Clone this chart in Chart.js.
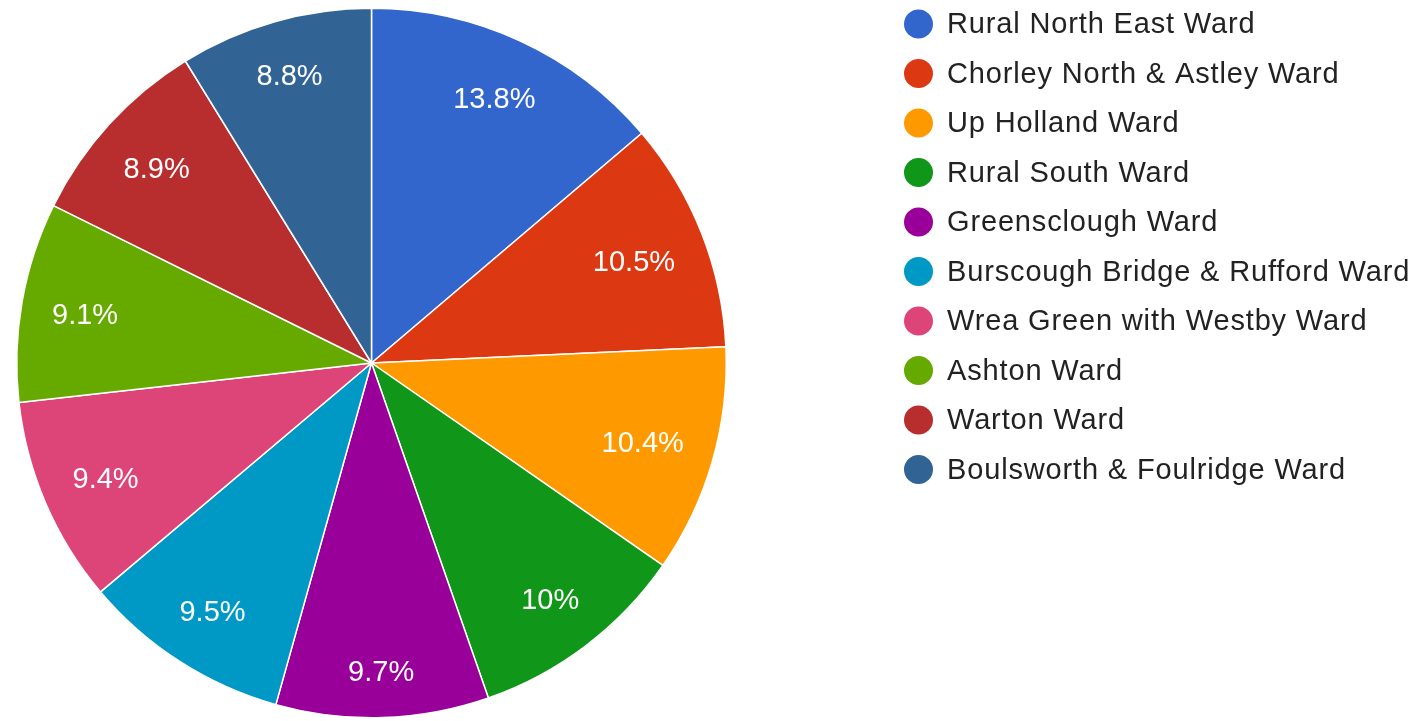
<!DOCTYPE html>
<html>
<head>
<meta charset="utf-8">
<script src="https://cdn.jsdelivr.net/npm/chart.js@4.4.0/dist/chart.umd.min.js"></script>
<style>
  html, body { margin: 0; padding: 0; background: #fff; }
  #wrap { width: 1419px; height: 721px; }
</style>
</head>
<body>
<div id="wrap"><canvas id="pieChart" width="1419" height="721"></canvas></div>
<script>
const wards = [
    'Rural North East Ward',
    'Chorley North & Astley Ward',
    'Up Holland Ward',
    'Rural South Ward',
    'Greensclough Ward',
    'Burscough Bridge & Rufford Ward',
    'Wrea Green with Westby Ward',
    'Ashton Ward',
    'Warton Ward',
    'Boulsworth & Foulridge Ward'
];
const shares = [13.8, 10.5, 10.4, 10, 9.7, 9.5, 9.4, 9.1, 8.9, 8.8];
const sliceColors = ['#3366cc', '#dc3912', '#ff9900', '#109618', '#990099',
                     '#0099c6', '#dd4477', '#66aa00', '#b82e2e', '#316395'];

const FONT = 'Arial, "Liberation Sans", sans-serif';

// percentage text inside each slice, pushed out as far as the box fits
const sliceLabels = {
    id: 'sliceLabels',
    afterDatasetsDraw(chart) {
        const ctx = chart.ctx;
        const meta = chart.getDatasetMeta(0);
        ctx.save();
        ctx.font = '29px ' + FONT;
        ctx.fillStyle = '#ffffff';
        ctx.textAlign = 'center';
        ctx.textBaseline = 'middle';
        meta.data.forEach((arc, i) => {
            const p = arc.getProps(['x', 'y', 'startAngle', 'endAngle', 'outerRadius'], true);
            const mid = (p.startAngle + p.endAngle) / 2;
            const ux = Math.cos(mid), uy = Math.sin(mid);
            const text = shares[i] + '%';
            const hw = ctx.measureText(text).width / 2;
            const hh = 16.5;
            const D = p.outerRadius * 0.92;
            const b = Math.abs(ux) * hw + Math.abs(uy) * hh;
            const c = hw * hw + hh * hh - D * D;
            const t = -b + Math.sqrt(b * b - c);
            ctx.fillText(text, p.x + ux * t, p.y + uy * t + 3);
        });
        ctx.restore();
    }
};

// legend to the right, drawn from the same labels and colours
const sideLegend = {
    id: 'sideLegend',
    afterDraw(chart) {
        const ctx = chart.ctx;
        const labels = chart.data.labels;
        const colors = chart.data.datasets[0].backgroundColor;
        ctx.save();
        ctx.font = '29px ' + FONT;
        if ('letterSpacing' in ctx) ctx.letterSpacing = '0.85px';
        ctx.textBaseline = 'middle';
        ctx.textAlign = 'left';
        labels.forEach((label, i) => {
            const y = 24 + i * 49.5;
            ctx.fillStyle = colors[i];
            ctx.beginPath();
            ctx.arc(918.5, y, 14.5, 0, Math.PI * 2);
            ctx.fill();
            ctx.fillStyle = '#222222';
            ctx.fillText(label, 947, y + 1);
        });
        ctx.restore();
    }
};

new Chart(document.getElementById('pieChart'), {
    type: 'pie',
    data: {
        labels: wards,
        datasets: [{
            data: shares,
            backgroundColor: sliceColors,
            borderColor: '#ffffff',
            borderWidth: 1.5
        }]
    },
    options: {
        responsive: false,
        animation: false,
        layout: { padding: { left: 16, right: 692, top: 7.5, bottom: 2.5 } },
        plugins: {
            legend: { display: false },
            tooltip: { enabled: false }
        }
    },
    plugins: [sliceLabels, sideLegend]
});
</script>
</body>
</html>
